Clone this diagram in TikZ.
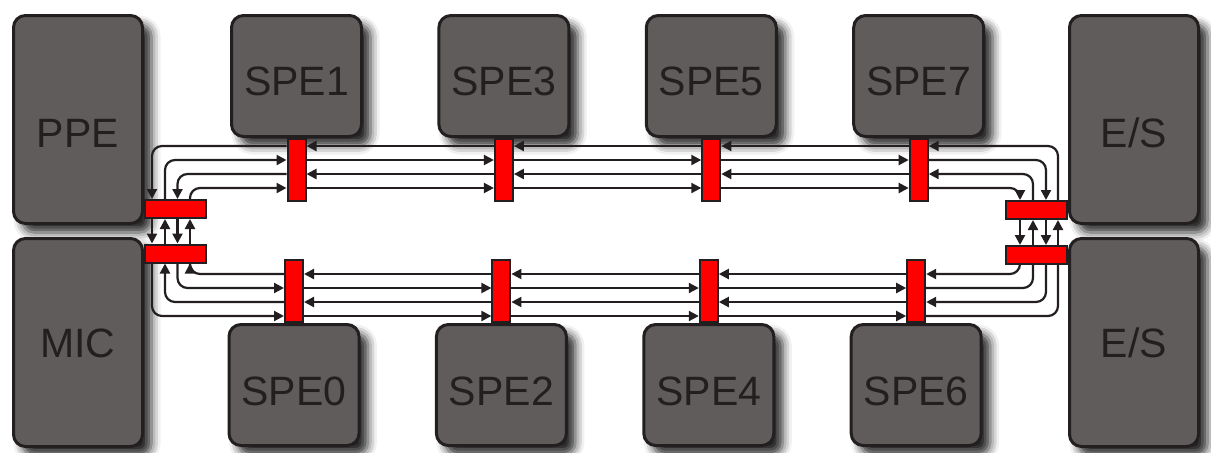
\documentclass[tikz,border=0pt]{standalone}
\usepackage{fontspec}
\setmainfont{Liberation Sans}
\usetikzlibrary{positioning,arrows.meta,shadows.blur}

\definecolor{chipfill}{RGB}{96,92,91}
\definecolor{chipline}{RGB}{35,31,32}
\definecolor{portred}{RGB}{255,0,0}

\tikzset{
  chip/.style={draw=chipline, line width=1.5pt, fill=chipfill, rounded corners=6pt,
    blur shadow={shadow xshift=4.5pt, shadow yshift=-4.5pt, shadow blur radius=4.5pt, shadow opacity=85},
    text=chipline, font=\fontsize{20.5}{24}\selectfont, inner sep=0pt, text depth=0pt},
  tallchip/.style={chip, minimum width=64.5pt, minimum height=104pt},
  topspe/.style={chip, minimum width=65pt, minimum height=60.5pt, text height=19pt},
  lowspe/.style={chip, minimum width=65pt, minimum height=60.5pt, text height=20pt},
  vport/.style={draw=chipline, line width=1pt, fill=portred, minimum width=9pt, minimum height=31pt, inner sep=0pt},
  hport/.style={vport, minimum width=30.5pt, minimum height=9pt},
  bus/.style={draw=chipline, line width=1.1pt, rounded corners=5pt},
  tobus/.style={bus, -{Triangle[length=5pt,width=5pt]}}
}

\begin{document}
\begin{tikzpicture}[x=0.5pt, y=-0.5pt, node distance=103.7pt]
  \useasboundingbox (0,0) rectangle (1211,452);

  % Nodes
  \node[tallchip, text height=27.5pt] (ppe) at (78,119.5) {PPE};
  \node[tallchip, text height=15pt] (mic) at (78,342.5) {MIC};
  \node[tallchip, text height=27.5pt] (esa) at (1134,119.5) {E/S};
  \node[tallchip, text height=15pt] (esb) at (1134,342.5) {E/S};
  \node[topspe] (spe1) at (296.5,76) {SPE1};
  \node[topspe] (spe3) [right of=spe1] {SPE3};
  \node[topspe] (spe5) [right of=spe3] {SPE5};
  \node[topspe] (spe7) [right of=spe5] {SPE7};
  \node[lowspe] (spe0) at (294,385) {SPE0};
  \node[lowspe] (spe2) [right of=spe0] {SPE2};
  \node[lowspe] (spe4) [right of=spe2] {SPE4};
  \node[lowspe] (spe6) [right of=spe4] {SPE6};

  % Ports
  \node[vport, anchor=north] (p1) at (spe1.south) {};
  \node[vport, anchor=north] (p3) at (spe3.south) {};
  \node[vport, anchor=north] (p5) at (spe5.south) {};
  \node[vport, anchor=north] (p7) at (spe7.south) {};
  \node[vport, anchor=south] (p0) at (spe0.north) {};
  \node[vport, anchor=south] (p2) at (spe2.north) {};
  \node[vport, anchor=south] (p4) at (spe4.north) {};
  \node[vport, anchor=south] (p6) at (spe6.north) {};
  \node[hport, anchor=west] (pl) at (ppe.east |- 0,209) {};
  \node[hport, anchor=west] (ql) at (mic.east |- 0,253.5) {};
  \node[hport, anchor=east] (pr) at (esa.west |- 0,210) {};
  \node[hport, anchor=east] (qr) at (esb.west |- 0,255) {};

  % Rings going left along the top
  \foreach \y/\yb/\xl/\xr in {146/316/152/1058, 174/288/177.5/1033} {
    \draw[tobus] (pr.north -| \xr,0) |- (p7.east |- 0,\y);
    \draw[tobus] (p7.west |- 0,\y) -- (p5.east |- 0,\y);
    \draw[tobus] (p5.west |- 0,\y) -- (p3.east |- 0,\y);
    \draw[tobus] (p3.west |- 0,\y) -- (p1.east |- 0,\y);
    \draw[tobus] (p1.west |- 0,\y) -| (pl.north -| \xl,0);
    \draw[tobus] (pl.south -| \xl,0) -- (ql.north -| \xl,0);
    \draw[tobus] (ql.south -| \xl,0) |- (p0.west |- 0,\yb);
    \draw[tobus] (p0.east |- 0,\yb) -- (p2.west |- 0,\yb);
    \draw[tobus] (p2.east |- 0,\yb) -- (p4.west |- 0,\yb);
    \draw[tobus] (p4.east |- 0,\yb) -- (p6.west |- 0,\yb);
    \draw[bus] (p6.east |- 0,\yb) -| (qr.south -| \xr,0);
    \draw[tobus] (qr.north -| \xr,0) -- (pr.south -| \xr,0);
  }

  % Rings going right along the top
  \foreach \y/\yb/\xl/\xr in {160/302/165/1046, 188/274/190/1020} {
    \draw[tobus] (pl.north -| \xl,0) |- (p1.west |- 0,\y);
    \draw[tobus] (p1.east |- 0,\y) -- (p3.west |- 0,\y);
    \draw[tobus] (p3.east |- 0,\y) -- (p5.west |- 0,\y);
    \draw[tobus] (p5.east |- 0,\y) -- (p7.west |- 0,\y);
    \draw[tobus] (p7.east |- 0,\y) -| (pr.north -| \xr,0);
    \draw[tobus] (pr.south -| \xr,0) -- (qr.north -| \xr,0);
    \draw[tobus] (qr.south -| \xr,0) |- (p6.east |- 0,\yb);
    \draw[tobus] (p6.west |- 0,\yb) -- (p4.east |- 0,\yb);
    \draw[tobus] (p4.west |- 0,\yb) -- (p2.east |- 0,\yb);
    \draw[tobus] (p2.west |- 0,\yb) -- (p0.east |- 0,\yb);
    \draw[tobus] (p0.west |- 0,\yb) -| (ql.south -| \xl,0);
    \draw[tobus] (ql.north -| \xl,0) -- (pl.south -| \xl,0);
  }
\end{tikzpicture}
\end{document}
